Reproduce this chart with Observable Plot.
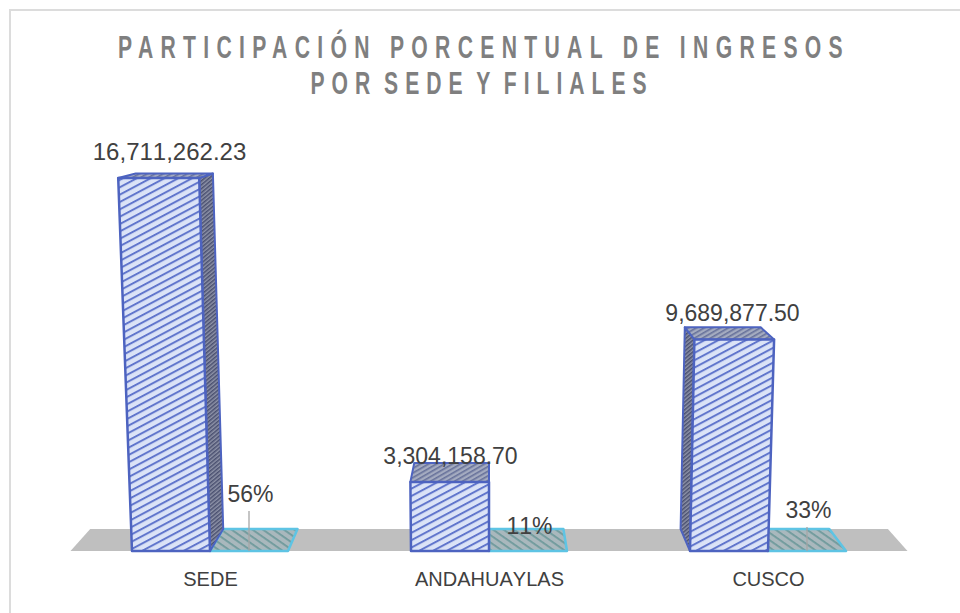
<!DOCTYPE html>
<html><head><meta charset="utf-8">
<script src="https://cdn.jsdelivr.net/npm/d3@7"></script>
<script src="https://cdn.jsdelivr.net/npm/@observablehq/plot@0.6"></script>
<style>
html,body{margin:0;padding:0;background:#fff;}
#wrap{width:960px;height:613px;overflow:hidden;position:relative;}
#frame{position:absolute;left:9px;top:9px;right:-5px;bottom:-5px;border:2px solid #dcdcdc;}
#title{position:relative;height:110px;box-sizing:border-box;padding-top:29px;text-align:center;color:#7f7f7f;
font:bold 32px/36px "Liberation Sans",sans-serif;letter-spacing:11.1px;}
#title div{transform:translateX(4px) scaleX(.66);white-space:nowrap;margin:0 -200px;}
#title .l2{word-spacing:-9px;letter-spacing:10.6px;transform:translateX(2px) scaleX(.66);}
#chart{position:relative;margin-top:0;}
svg{display:block;}
.sinkern text{font-kerning:none;}
</style></head><body>
<div id="wrap">
<div id="frame"></div>
<div id="title"><div>PARTICIPACIÓN PORCENTUAL DE INGRESOS</div><div class="l2">POR SEDE Y FILIALES</div></div>
<div id="chart"></div>
</div>
<svg width="0" height="0" style="position:absolute">
<defs>
<pattern id="hFront" width="6.5" height="6.5" patternUnits="userSpaceOnUse" patternTransform="rotate(-28)">
<rect width="6.5" height="6.5" fill="#dbe3f7"/><rect width="6.5" height="2" fill="#6176cc"/>
</pattern>
<pattern id="hTop" width="4" height="4" patternUnits="userSpaceOnUse" patternTransform="rotate(-30)">
<rect width="4" height="4" fill="#a4abc0"/><rect width="4" height="1.6" fill="#67719a"/>
</pattern>
<pattern id="hSide" width="3" height="3" patternUnits="userSpaceOnUse" patternTransform="rotate(-40)">
<rect width="3" height="3" fill="#8e93a8"/><rect width="3" height="1.5" fill="#4a5070"/>
</pattern>
<pattern id="hTile" width="6" height="6" patternUnits="userSpaceOnUse" patternTransform="rotate(35)">
<rect width="6" height="6" fill="#a9b8bd"/><rect width="6" height="1.8" fill="#6f9a9c"/>
</pattern>
</defs></svg>
<script>
const sedes = ["SEDE", "ANDAHUAYLAS", "CUSCO"];
const ingresos = [16711262.23, 3304158.70, 9689877.50];
const ingresosTexto = ["16,711,262.23", "3,304,158.70", "9,689,877.50"];
const participacion = [56, 11, 33];
const participacionTexto = ["56%", "11%", "33%"];
const rows = sedes.map((sede, i) => ({sede, ingreso: ingresos[i], texto: ingresosTexto[i], pct: participacion[i], pctTexto: participacionTexto[i]}));

const W = 960, H = 503, BASE = 441;
const NS = "http://www.w3.org/2000/svg";
const VX = 490, VY = -27, D = 0.047, K = 0.000103;
const back = ([x, y]) => [VX + (x - VX) * (1 - D), VY + (y - VY) * (1 - D)];
function poly(g, pts, fill, stroke, sw) {
  const p = document.createElementNS(NS, "path");
  p.setAttribute("d", "M" + pts.map(q => q[0].toFixed(1) + "," + q[1].toFixed(1)).join("L") + "Z");
  p.setAttribute("fill", fill);
  if (stroke) { p.setAttribute("stroke", stroke); p.setAttribute("stroke-width", sw); p.setAttribute("stroke-linejoin", "round"); }
  g.appendChild(p);
}
const g0 = () => document.createElementNS(NS, "g");
const bandOf = s => typeof s.x.bandwidth === "function" ? s.x.bandwidth() : s.x.bandwidth;

// suelo y baldosas de porcentaje
function floorMark(scales) {
  const g = g0(), b = scales.y(0), bw = bandOf(scales);
  const dom = sedes.map(s => scales.x(s));
  const step = dom[1] - dom[0];
  const left = dom[0] + bw - step / 2, right = dom[2] + bw + step / 2;
  poly(g, [[left, b], back([left, b]), back([right, b]), [right, b]], "#bfbfbf");
  for (const s of sedes) {
    const x1 = scales.x(s) + bw, x2 = x1 + bw;
    poly(g, [[x1, b], back([x1, b]), back([x2, b]), [x2, b]], "url(#hTile)", "#5ec4e4", 2.5);
  }
  return g;
}
// prisma de cada sede
function prismMark(index, scales) {
  const g = g0(), b = scales.y(0), bw = bandOf(scales);
  for (const i of index) {
    const r = rows[i], x0 = scales.x(r.sede), x1 = x0 + bw, top = scales.y(r.ingreso), h = b - top;
    const wid = x => VX + (x - VX) * (1 + K * h);
    const fl = [x0, b], fr = [x1, b], tl = [wid(x0), top], tr = [wid(x1), top];
    const stroke = "#4d63c0";
    if (x0 > VX) poly(g, [fl, back(fl), back(tl), tl], "url(#hSide)", stroke, 2);
    if (x1 < VX) poly(g, [fr, back(fr), back(tr), tr], "url(#hSide)", stroke, 2);
    poly(g, [tl, back(tl), back(tr), tr], "url(#hTop)", stroke, 2);
    poly(g, [fl, tl, tr, fr], "url(#hFront)", stroke, 2.5);
  }
  return g;
}
// guías de las etiquetas
function leaderMark(scales) {
  const g = g0(), b = scales.y(0), bw = bandOf(scales);
  [["SEDE", 40], ["CUSCO", 24]].forEach(([s, len]) => {
    const x = scales.x(s) + bw * 1.5;
    const l = document.createElementNS(NS, "path");
    l.setAttribute("d", `M${x},${b}V${b - len}`);
    l.setAttribute("stroke", "#a6a6a6"); l.setAttribute("stroke-width", 1.3); l.setAttribute("fill", "none");
    g.appendChild(l);
  });
  return g;
}
const font = {fontFamily: "'Liberation Sans', Arial, sans-serif", fill: "#404040"};
const pctMark = (sede, dy) => Plot.text(rows.filter(r => r.sede === sede), {
  x: "sede", y: 0, text: "pctTexto", dx: 79, dy, fontSize: 23, ...font});
const valMark = (sede, size, dx) => Plot.text(rows.filter(r => r.sede === sede), {
  x: "sede", y: "ingreso", text: "texto", dx, dy: -26, fontSize: size, ...font});

const plot = Plot.plot({
  width: W, height: H, marginLeft: 0, marginRight: 0, marginTop: 0, marginBottom: 62,
  className: "sinkern",
  style: {background: "transparent"},
  x: {type: "band", domain: sedes, paddingInner: 0.7214, paddingOuter: 0, align: 0.5, range: [131, 769], axis: null},
  y: {type: "pow", exponent: 1.04, domain: [0, d3.max(ingresos)], range: [BASE, 68], axis: null},
  marks: [
    Plot.barY(rows, {x: "sede", y: "ingreso", render: (index, scales) => {
      const g = g0();
      g.appendChild(floorMark(scales));
      g.appendChild(leaderMark(scales));
      g.appendChild(prismMark(index, scales));
      return g;
    }}),
    valMark("SEDE", 24, -2), valMark("ANDAHUAYLAS", 23, 0), valMark("CUSCO", 23, 3),
    pctMark("SEDE", -57), pctMark("ANDAHUAYLAS", -25), pctMark("CUSCO", -41),
    Plot.text(rows, {x: "sede", y: 0, text: "sede", dx: 39, dy: 28, fontSize: 20, ...font})
  ]
});
document.getElementById("chart").appendChild(plot);
</script>
</body></html>
